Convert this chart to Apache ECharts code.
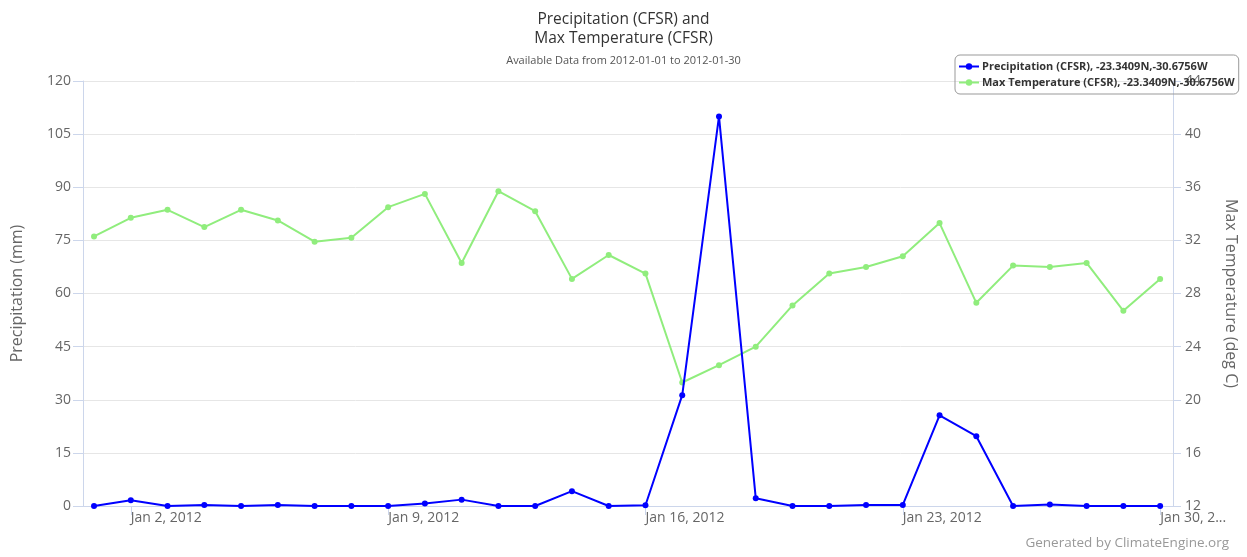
<!DOCTYPE html>
<html>
<head>
<meta charset="utf-8">
<script src="https://cdn.jsdelivr.net/npm/echarts@6/dist/echarts.min.js"></script>
<style>html,body{margin:0;padding:0;background:#fff}#c{width:1247px;height:557px}</style>
</head>
<body>
<div id="c"></div>
<script>
const dates = ['2012-01-01','2012-01-02','2012-01-03','2012-01-04','2012-01-05','2012-01-06','2012-01-07','2012-01-08','2012-01-09','2012-01-10',
  '2012-01-11','2012-01-12','2012-01-13','2012-01-14','2012-01-15','2012-01-16','2012-01-17','2012-01-18','2012-01-19','2012-01-20',
  '2012-01-21','2012-01-22','2012-01-23','2012-01-24','2012-01-25','2012-01-26','2012-01-27','2012-01-28','2012-01-29','2012-01-30'];
const precip = [0, 1.6, 0, 0.3, 0, 0.3, 0, 0, 0, 0.7,
  1.8, 0, 0, 4.2, 0, 0.2, 31.3, 110, 2.2, 0,
  0, 0.3, 0.3, 25.6, 19.7, 0, 0.4, 0, 0, 0];
const maxTemp = [32.3, 33.7, 34.3, 33.0, 34.3, 33.5, 31.9, 32.2, 34.5, 35.5,
  30.3, 35.7, 34.2, 29.1, 30.9, 29.5, 21.3, 22.6, 24.0, 27.1,
  29.5, 30.0, 30.8, 33.3, 27.3, 30.1, 30.0, 30.3, 26.7, 29.1];
const xTickDays = [1, 8, 15, 22, 29];
const xTickLabels = ['Jan 2, 2012', 'Jan 9, 2012', 'Jan 16, 2012', 'Jan 23, 2012', 'Jan 30, 2...'];
const seriesNames = ['Precipitation (CFSR), -23.3409N,-30.6756W', 'Max Temperature (CFSR), -23.3409N,-30.6756W'];

const t0 = Date.parse(dates[0] + 'T00:00:00Z');
const dayIdx = dates.map(d => Math.round((Date.parse(d + 'T00:00:00Z') - t0) / 86400000));
const FONT = 'Open Sans';

const chart = echarts.init(document.getElementById('c'), null, {renderer: 'canvas'});
chart.setOption({
  backgroundColor: '#fff',
  animation: false,
  textStyle: {fontFamily: FONT},
  title: [{
    text: 'Precipitation (CFSR) and\nMax Temperature (CFSR)',
    subtext: 'Available Data from 2012-01-01 to 2012-01-30',
    left: 'center', top: 5, itemGap: 7,
    textStyle: {fontSize: 15.5, fontWeight: 'normal', color: '#333', lineHeight: 19, fontFamily: FONT},
    subtextStyle: {fontSize: 11, color: '#555', fontFamily: FONT}
  }, {
    text: 'Generated by ClimateEngine.org',
    right: 13, bottom: 2,
    textStyle: {fontSize: 13.5, fontWeight: 'normal', color: '#999', fontFamily: FONT}
  }],
  legend: {
    orient: 'vertical', left: 955, top: 55,
    padding: [6, 4, 6, 3], itemGap: 5, itemWidth: 20, itemHeight: 8,
    borderColor: '#999', borderWidth: 1, borderRadius: 5,
    textStyle: {fontSize: 11, fontWeight: 'bold', color: '#333', fontFamily: FONT, padding: [0, 0, 0, -2]},
    data: seriesNames
  },
  grid: {left: 83, right: 71, top: 81, bottom: 51, containLabel: false},
  xAxis: {
    type: 'value', min: -0.3, max: 29.35,
    axisLine: {show: true, onZero: false, lineStyle: {color: '#ccd6eb'}},
    axisTick: {show: true, length: 9, lineStyle: {color: '#ccd6eb'}, customValues: xTickDays},
    axisLabel: {
      customValues: xTickDays, align: 'left', color: '#666', fontSize: 14, margin: 5,
      formatter: v => xTickLabels[xTickDays.indexOf(Math.round(v))]
    },
    splitLine: {show: false}
  },
  yAxis: [{
    type: 'value', min: 0, max: 120, interval: 15,
    name: 'Precipitation (mm)', nameLocation: 'middle', nameGap: 58, nameRotate: 90,
    nameTextStyle: {fontSize: 16, color: '#666'},
    axisLine: {show: true, onZero: false, lineStyle: {color: '#ccd6eb'}},
    axisTick: {show: true, length: 10, lineStyle: {color: '#ccd6eb'}},
    axisLabel: {color: '#666', fontSize: 14, margin: 12},
    splitLine: {show: true, lineStyle: {color: '#e6e6e6'}}
  }, {
    type: 'value', min: 12, max: 44, interval: 4, position: 'right',
    name: 'Max Temperature (deg C)', nameLocation: 'middle', nameGap: 50, nameRotate: -90,
    nameTextStyle: {fontSize: 16, color: '#666'},
    axisLine: {show: true, onZero: false, lineStyle: {color: '#ccd6eb'}},
    axisTick: {show: true, length: 8, lineStyle: {color: '#ccd6eb'}},
    axisLabel: {color: '#666', fontSize: 14, margin: 12},
    splitLine: {show: false}
  }],
  series: [{
    name: seriesNames[0], type: 'line', yAxisIndex: 0, z: 3,
    data: dayIdx.map((d, i) => [d, precip[i]]),
    symbol: 'circle', symbolSize: 6,
    lineStyle: {color: '#0000ff', width: 2},
    itemStyle: {color: '#0000ff'}
  }, {
    name: seriesNames[1], type: 'line', yAxisIndex: 1, z: 2,
    data: dayIdx.map((d, i) => [d, maxTemp[i]]),
    symbol: 'circle', symbolSize: 6,
    lineStyle: {color: '#90ed7d', width: 2},
    itemStyle: {color: '#90ed7d'}
  }]
});
</script>
</body>
</html>
